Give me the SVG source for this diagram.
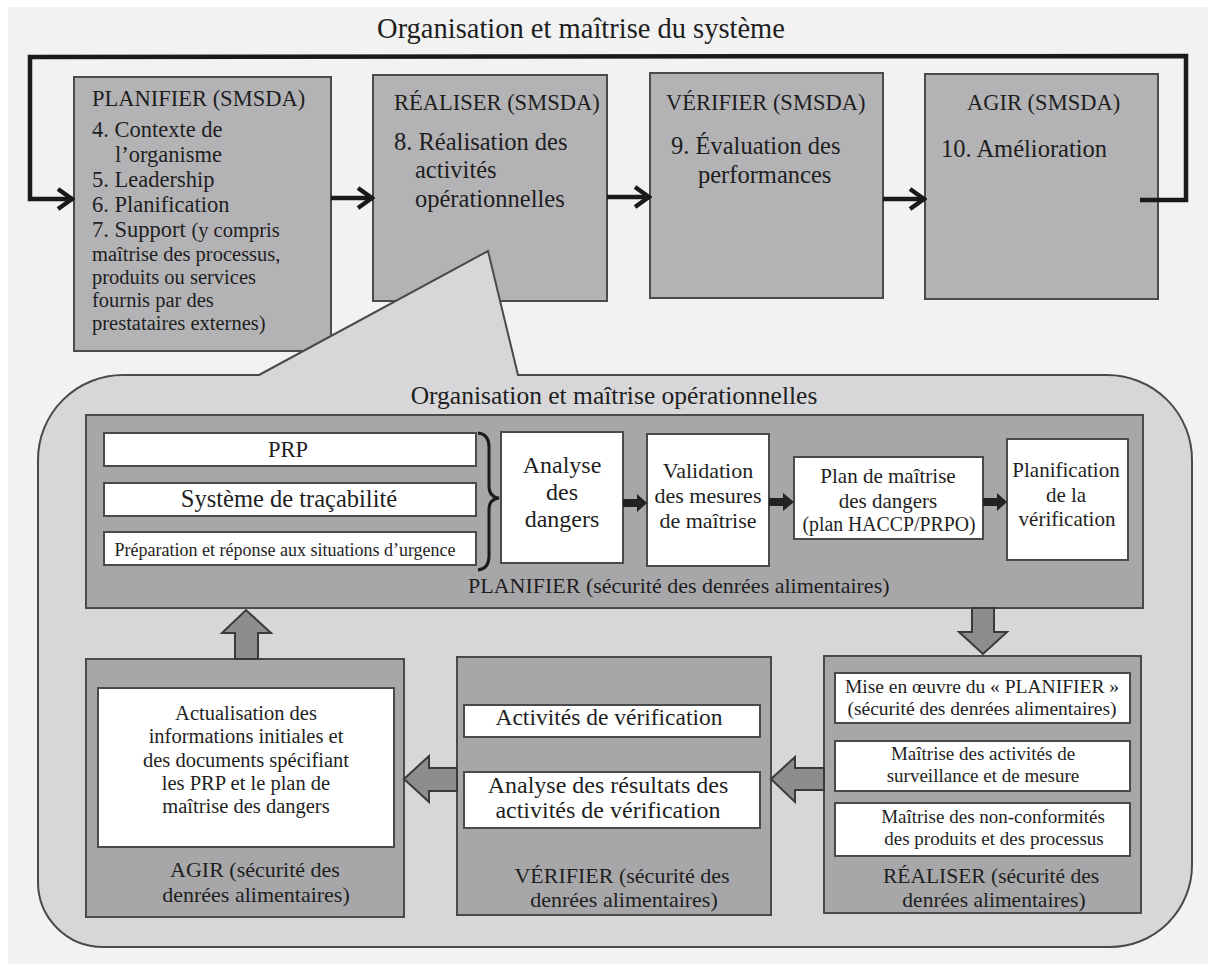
<svg xmlns="http://www.w3.org/2000/svg" width="1215" height="967" viewBox="0 0 1215 967">
<defs>
<style>
text{font-family:"Liberation Serif","DejaVu Serif",serif;fill:#1e1e1e}
.top{fill:#b3b3b6;stroke:#4a4a4a;stroke-width:2}
.inner{fill:#a7a7aa;stroke:#4a4a4a;stroke-width:2}
.white{fill:#ffffff;stroke:#4a4a4a;stroke-width:2}
.blk{fill:#8d8d8f;stroke:#3a3a3a;stroke-width:2;stroke-linejoin:miter}
.loop{fill:none;stroke:#1a1a1a;stroke-width:4.5}
.h{font-size:22.5px}
.b{font-size:24.5px}
.p{font-size:22.5px}
.s{font-size:20.5px}
.c{text-anchor:middle}
</style>
<marker id="chev" viewBox="0 0 20 24" refX="18" refY="12" markerWidth="20" markerHeight="24" markerUnits="userSpaceOnUse" orient="auto">
<path d="M3,2 L17,12 L3,22" fill="none" stroke="#1a1a1a" stroke-width="4.5"/>
</marker>
</defs>
<rect x="0" y="0" width="1215" height="967" fill="#ffffff"/>
<rect x="8" y="7" width="1200" height="957" fill="#f2f2f2"/>

<text x="581" y="38" class="c" style="font-size:28.5px">Organisation et maîtrise du système</text>

<g id="planifier-smsda">
<rect class="top" x="74" y="77" width="257" height="274"/>
<text x="92" y="106" class="h">PLANIFIER (SMSDA)</text>
<text x="92" y="137" class="p">4. Contexte de</text>
<text x="115" y="162" class="p">l’organisme</text>
<text x="92" y="187" class="p">5. Leadership</text>
<text x="92" y="212" class="p">6. Planification</text>
<text x="92" y="237" class="p">7. Support <tspan style="font-size:20.5px">(y compris</tspan></text>
<text x="92" y="261" class="s">maîtrise des processus,</text>
<text x="92" y="284" class="s">produits ou services</text>
<text x="92" y="307" class="s">fournis par des</text>
<text x="92" y="330" class="s">prestataires externes)</text>
</g>

<g id="realiser-smsda">
<rect class="top" x="373" y="75" width="234" height="226"/>
<text x="394" y="110" class="h">RÉALISER (SMSDA)</text>
<text x="394" y="150" class="b">8. Réalisation des</text>
<text x="415" y="178" class="b">activités</text>
<text x="415" y="207" class="b">opérationnelles</text>
</g>

<g id="verifier-smsda">
<rect class="top" x="650" y="73" width="233" height="225"/>
<text x="666" y="110" class="h">VÉRIFIER (SMSDA)</text>
<text x="671" y="154" class="b">9. Évaluation des</text>
<text x="698" y="183" class="b">performances</text>
</g>

<g id="agir-smsda">
<rect class="top" x="925" y="74" width="233" height="225"/>
<text x="967" y="110" class="h">AGIR (SMSDA)</text>
<text x="941" y="157" class="b">10. Amélioration</text>
</g>

<g id="connectors-top">
<path class="loop" d="M1140,200 L1186,200 L1186,56 L30,57 L30,199 L73,199" marker-end="url(#chev)"/>
<path class="loop" d="M331,198 L373,198" marker-end="url(#chev)"/>
<path class="loop" d="M607,197 L650,197" marker-end="url(#chev)"/>
<path class="loop" d="M883,199 L925,199" marker-end="url(#chev)"/>
</g>

<g id="operational-container">
<path d="M259,375 L488,251 L518,375 L1107,375 A85,85 0 0 1 1192,460 L1192,865 A82,82 0 0 1 1110,947 L103,947 A65,65 0 0 1 38,882 L38,460 A85,85 0 0 1 123,375 Z" fill="#d7d7d9" stroke="#4a4a4a" stroke-width="2"/>
<text x="614" y="404" class="c" style="font-size:25.5px">Organisation et maîtrise opérationnelles</text>
</g>

<g id="planifier-sda">
<rect class="inner" x="86" y="415" width="1057" height="193"/>
<text x="468" y="593" style="font-size:22px">PLANIFIER (sécurité des denrées alimentaires)</text>
</g>

<g id="prp">
<rect class="white" x="104" y="433" width="372" height="33"/>
<text x="288" y="457" class="c" style="font-size:22.5px">PRP</text>
</g>
<g id="tracabilite">
<rect class="white" x="104" y="483" width="372" height="33"/>
<text x="289" y="507" class="c" style="font-size:24.5px">Système de traçabilité</text>
</g>
<g id="urgence">
<rect class="white" x="104" y="532" width="372" height="33"/>
<text x="285" y="556" class="c" style="font-size:18px">Préparation et réponse aux situations d’urgence</text>
</g>
<g id="brace">
<path d="M478,433 Q489,434 489,447 L489,486 Q489,497 499,498 Q489,499 489,510 L489,556 Q489,569 478,570" fill="none" stroke="#1a1a1a" stroke-width="3"/>
</g>

<g id="analyse">
<rect class="white" x="501" y="432" width="122" height="131"/>
<text x="562" y="473" class="c" style="font-size:24px">Analyse</text>
<text x="562" y="500" class="c" style="font-size:24px">des</text>
<text x="562" y="527" class="c" style="font-size:24px">dangers</text>
</g>
<g id="validation">
<rect class="white" x="647" y="434" width="122" height="132"/>
<text x="708" y="478" class="c" style="font-size:22px">Validation</text>
<text x="708" y="503" class="c" style="font-size:22px">des mesures</text>
<text x="708" y="528" class="c" style="font-size:22px">de maîtrise</text>
</g>
<g id="plan-maitrise">
<rect class="white" x="794" y="457" width="189" height="82"/>
<text x="888" y="483" class="c" style="font-size:21px">Plan de maîtrise</text>
<text x="888" y="508" class="c" style="font-size:21px">des dangers</text>
<text x="889" y="531" class="c" style="font-size:20px" textLength="173" lengthAdjust="spacingAndGlyphs">(plan HACCP/PRPO)</text>
</g>
<g id="planification-verif">
<rect class="white" x="1007" y="439" width="121" height="121"/>
<text x="1066" y="477" class="c" style="font-size:21px">Planification</text>
<text x="1066" y="502" class="c" style="font-size:21px">de la</text>
<text x="1067" y="526" class="c" style="font-size:21px">vérification</text>
</g>

<g id="agir-sda">
<rect class="inner" x="86" y="659" width="318" height="258"/>
<rect class="white" x="98" y="688" width="296" height="159"/>
<text x="246" y="720" class="c" style="font-size:20.5px">Actualisation des</text>
<text x="246" y="743" class="c" style="font-size:20.5px">informations initiales et</text>
<text x="246" y="767" class="c" style="font-size:20.5px">des documents spécifiant</text>
<text x="246" y="790" class="c" style="font-size:20.5px">les PRP et le plan de</text>
<text x="246" y="813" class="c" style="font-size:20.5px">maîtrise des dangers</text>
<text x="255" y="877" class="c" style="font-size:22px">AGIR (sécurité des</text>
<text x="256" y="902" class="c" style="font-size:22px">denrées alimentaires)</text>
</g>

<g id="verifier-sda">
<rect class="inner" x="457" y="657" width="314" height="258"/>
<rect class="white" x="464" y="705" width="296" height="32"/>
<text x="609" y="725" class="c" style="font-size:23.5px">Activités de vérification</text>
<rect class="white" x="464" y="772" width="296" height="56"/>
<text x="608" y="793" class="c" style="font-size:24px">Analyse des résultats des</text>
<text x="608" y="818" class="c" style="font-size:24px">activités de vérification</text>
<text x="622" y="883" class="c" style="font-size:22px">VÉRIFIER (sécurité des</text>
<text x="624" y="907" class="c" style="font-size:22px">denrées alimentaires)</text>
</g>

<g id="realiser-sda">
<rect class="inner" x="824" y="656" width="317" height="257"/>
<rect class="white" x="835" y="673" width="295" height="50"/>
<text x="982" y="693" class="c" style="font-size:19.5px">Mise en œuvre du « PLANIFIER »</text>
<text x="982" y="715" class="c" style="font-size:19.5px">(sécurité des denrées alimentaires)</text>
<rect class="white" x="835" y="741" width="295" height="50"/>
<text x="983" y="760" class="c" style="font-size:19px">Maîtrise des activités de</text>
<text x="983" y="782" class="c" style="font-size:19px">surveillance et de mesure</text>
<rect class="white" x="835" y="803" width="295" height="53"/>
<text x="993" y="823" class="c" style="font-size:19px">Maîtrise des non-conformités</text>
<text x="994" y="845" class="c" style="font-size:19px">des produits et des processus</text>
<text x="991" y="883" class="c" style="font-size:21.5px">RÉALISER (sécurité des</text>
<text x="994" y="907" class="c" style="font-size:21.5px">denrées alimentaires)</text>
</g>

<g id="connectors-operational">
<path d="M623,499 L637,499 L637,494 L647,503 L637,512 L637,507 L623,507 Z" fill="#222"/>
<path d="M769,498 L783,498 L783,493 L794,502 L783,511 L783,506 L769,506 Z" fill="#222"/>
<path d="M983,498 L997,498 L997,493 L1007,502 L997,511 L997,506 L983,506 Z" fill="#222"/>
<path class="blk" d="M972,608 L994,608 L994,632 L1007,632 L983,654 L959,632 L972,632 Z"/>
<path class="blk" d="M824,768 L795,768 L795,757 L771,779 L795,802 L795,790 L824,790 Z"/>
<path class="blk" d="M457,768 L429,768 L429,756 L404,779 L429,802 L429,791 L457,791 Z"/>
<path class="blk" d="M235,659 L235,633 L222,633 L246,610 L271,633 L258,633 L258,659 Z"/>
</g>
</svg>
